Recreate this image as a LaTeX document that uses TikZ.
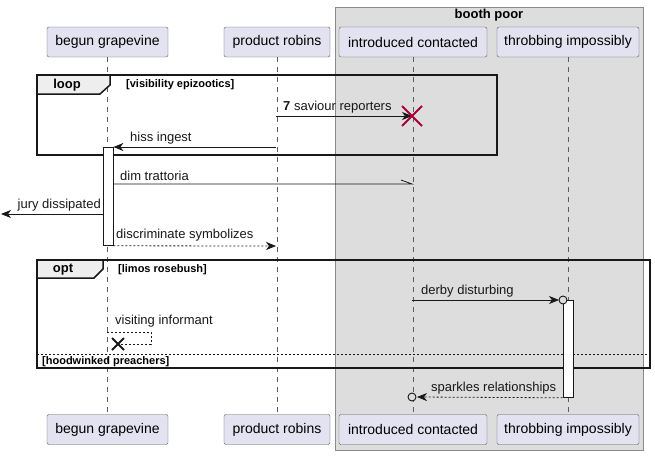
\documentclass[tikz,border=0pt]{standalone}
\usepackage{fontspec}
\setmainfont{Liberation Sans}
\usetikzlibrary{arrows.meta,calc}
\definecolor{partfill}{HTML}{E2E2F0}
\definecolor{partdraw}{HTML}{5A5A5A}
\definecolor{boxfill}{HTML}{DDDDDD}
\definecolor{boxdraw}{HTML}{8A8A8A}
\definecolor{tabfill}{HTML}{EEEEEE}
\definecolor{destroyred}{HTML}{A80036}
\definecolor{ink}{HTML}{181818}
\begin{document}
\begin{tikzpicture}[x=1pt,y=-1pt,
  part/.style={draw=partdraw, fill=partfill, rounded corners=2pt, minimum height=30pt, inner sep=0pt, font=\fontsize{14}{16}\selectfont},
  lifeline/.style={draw=ink!70, line width=0.6pt, dash pattern=on 5pt off 5pt},
  frameline/.style={draw=ink, line width=1.5pt},
  tab/.style={draw=ink, line width=1.5pt, fill=tabfill},
  tablabel/.style={font=\bfseries\fontsize{13}{15}\selectfont, inner sep=0pt},
  guard/.style={font=\bfseries\fontsize{11}{13}\selectfont, inner sep=0pt, anchor=west},
  lbl/.style={font=\fontsize{13}{15}\selectfont, inner sep=0pt, anchor=west, text=ink},
  msg/.style={draw=ink, line width=0.8pt, -{Stealth[length=10pt,width=8pt,inset=3pt]}},
  msgd/.style={msg, dash pattern=on 2pt off 2pt},
  act/.style={draw=ink, line width=0.8pt, fill=white},
  xmark/.style={line width=2pt}
]
\useasboundingbox (0,0) rectangle (655,455);
% group box
\node[draw=boxdraw, fill=boxfill, minimum width=308pt, minimum height=443pt, anchor=north west, inner sep=0pt] (booth) at (335,7) {};
\node[font=\bfseries\fontsize{13}{15}\selectfont, inner sep=0pt] (boothtitle) at (489,15) {booth poor};
% participants
\node[part, minimum width=121pt] (bgT) at (107.5,42) {begun grapevine};
\node[part, minimum width=106pt] (prT) at (277,42) {product robins};
\node[part, minimum width=148pt] (icT) at (413,42) {introduced contacted};
\node[part, minimum width=142pt] (tiT) at (568,42) {throbbing impossibly};
\node[part, minimum width=121pt] (bgB) at (107.5,429.5) {begun grapevine};
\node[part, minimum width=106pt] (prB) at (277,429.5) {product robins};
\node[part, minimum width=148pt] (icB) at (413,429.5) {introduced contacted};
\node[part, minimum width=142pt] (tiB) at (568,429.5) {throbbing impossibly};
% lifelines
\draw[lifeline] (bgT.south) -- (bgB.north);
\draw[lifeline] (prT.south) -- (prB.north);
\draw[lifeline] (icT.south) -- (icB.north);
\draw[lifeline] (tiT.south) -- (tiB.north);
% loop frame
\draw[frameline] (37,75) rectangle (497,155);
\draw[tab] (37,75) -- (110,75) -- (110,85) -- (100,94) -- (37,94) -- cycle;
\node[tablabel] (looplbl) at (67,85) {loop};
\node[guard] (loopguard) at (126,85) {[visibility epizootics]};
% opt frame
\draw[frameline] (37,260) rectangle (650,368);
\draw[ink, line width=0.8pt, dash pattern=on 2pt off 2pt] (37,354) -- (650,354);
\draw[tab] (37,260) -- (103,260) -- (103,269) -- (94,278) -- (37,278) -- cycle;
\node[tablabel] (optlbl) at (63,269.5) {opt};
\node[guard] (optguard) at (118,270) {[limos rosebush]};
\node[guard] (elseguard) at (42,361.5) {[hoodwinked preachers]};
% activations
\node[act, minimum width=10pt, minimum height=98pt, inner sep=0pt, anchor=north] (bgAct) at (108,147) {};
\node[act, minimum width=10pt, minimum height=97pt, inner sep=0pt, anchor=north] (tiAct) at (568,300) {};
% coordinates
\coordinate (pr1) at (276,116);
\coordinate (ic1) at (412,116);
\coordinate (pr2) at (276,147);
\coordinate (ic3) at (412,184);
\coordinate (ic3s) at (401,180);
\coordinate (lost) at (1,214);
\coordinate (pr5) at (276,246);
\coordinate (ic6) at (412,300);
\coordinate (ti6) at (559,300);
\coordinate (tic) at (563,300);
\coordinate (bgs1) at (107,332);
\coordinate (bgs2) at (151,332);
\coordinate (bgs3) at (151,344);
\coordinate (bgx) at (118,344);
\coordinate (icc) at (412,397);
\coordinate (ic8) at (417,397);
% messages
\draw[msg] (pr1) -- (ic1);
\node[lbl] (m1) at (283,107) {\textbf{7} saviour reporters};
\draw[destroyred, xmark] ($(ic1)+(-10,-10)$) -- ($(ic1)+(10,10)$) ($(ic1)+(-10,10)$) -- ($(ic1)+(10,-10)$);
\draw[msg] (pr2) -- (bgAct.north east);
\node[lbl] (m2) at (130,138) {hiss ingest};
\draw[ink, line width=0.8pt] (bgAct.east |- ic3) -- (ic3) -- (ic3s);
\node[lbl] (m3) at (120,176) {dim trattoria};
\draw[msg] (bgAct.west |- lost) -- (lost);
\node[lbl, anchor=east] (m4) at (101,205) {jury dissipated};
\draw[msgd] (bgAct.south east) -- (pr5);
\node[lbl] (m5) at (116,235) {discriminate symbolizes};
\draw[msg] (ic6) -- (ti6);
\draw[ink, line width=0.9pt, fill=boxfill] (tic) circle (4);
\node[lbl] (m6) at (421,291) {derby disturbing};
\draw[ink, line width=0.8pt, dash pattern=on 2pt off 2pt] (bgs1) -- (bgs2) -- (bgs3) -- (bgx);
\draw[ink, xmark] ($(bgx)+(-6,-6)$) -- ($(bgx)+(6,6)$) ($(bgx)+(-6,6)$) -- ($(bgx)+(6,-6)$);
\node[lbl] (m7) at (115,321) {visiting informant};
\draw[msgd] (tiAct.south west) -- (ic8);
\draw[ink, line width=0.9pt, fill=boxfill] (icc) circle (4);
\node[lbl] (m8) at (431,388) {sparkles relationships};
\end{tikzpicture}
\end{document}
